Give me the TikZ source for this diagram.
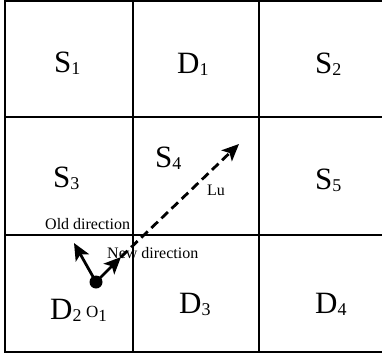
\documentclass[tikz,border=0pt]{standalone}
\usepackage{fontspec}
\setmainfont{Liberation Serif}
\usetikzlibrary{arrows.meta, positioning, calc}
\newcommand{\cellname}[2]{#1\raisebox{-2.5pt}{\fontsize{18}{18}\selectfont #2}}
\tikzset{
  wall/.style  = {line width=2pt},
  cell/.style  = {anchor=base west, inner sep=0pt,
                  font=\fontsize{31}{31}\selectfont},
  tag/.style   = {anchor=base west, inner sep=0pt,
                  font=\fontsize{16}{16}\selectfont},
  robot/.style = {circle, fill, minimum size=13pt, inner sep=0pt},
  move/.style  = {-{Stealth[length=17pt, width=15pt, inset=4pt]},
                  line width=2.8pt},
  route/.style = {move, dash pattern=on 9pt off 5pt},
}

\begin{document}
\begin{tikzpicture}[x=1pt, y=1pt]
  \useasboundingbox (0,0) rectangle (382,357);

  % cells
  \draw[wall] (5,5) rectangle (386,356);
  \draw[wall] (133,5) -- (133,356);
  \draw[wall] (259,5) -- (259,356);
  \draw[wall] (5,122) -- (386,122);
  \draw[wall] (5,240) -- (386,240);

  \node[cell] (s1) at (54,285) {\cellname{S}{1}};
  \node[cell] (d1) at (177,284) {\cellname{D}{1}};
  \node[cell] (s2) at (315,284) {\cellname{S}{2}};
  \node[cell] (s3) at (53,170) {\cellname{S}{3}};
  \node[cell] (s4) at (155,190) {\cellname{S}{4}};
  \node[cell] (s5) at (315,168) {\cellname{S}{5}};
  \node[cell] (d2) at (50,38) {\cellname{D}{2}};
  \node[cell] (d3) at (179,44) {\cellname{D}{3}};
  \node[cell] (d4) at (315,44) {\cellname{D}{4}};

  % robot and directions
  \node[robot] (o1) at (96,75) {};
  \node[tag, font=\fontsize{17}{17}\selectfont] (o1name) at (86,40)
    {O\raisebox{-4pt}{1}};
  \coordinate (oldtip) at (74,114);
  \coordinate (newtip) at (121,100);
  \coordinate (lutip) at (239,213);

  \draw[move] (o1.center) -- (oldtip);
  \draw[move] (o1.center) -- (newtip);
  \draw[route] (newtip) -- (lutip);

  \node[tag] (oldname) at (45,128) {Old direction};
  \node[tag] (newname) at (107,99) {New direction};
  \node[tag] (luname) at (207,162) {Lu};
\end{tikzpicture}
\end{document}
